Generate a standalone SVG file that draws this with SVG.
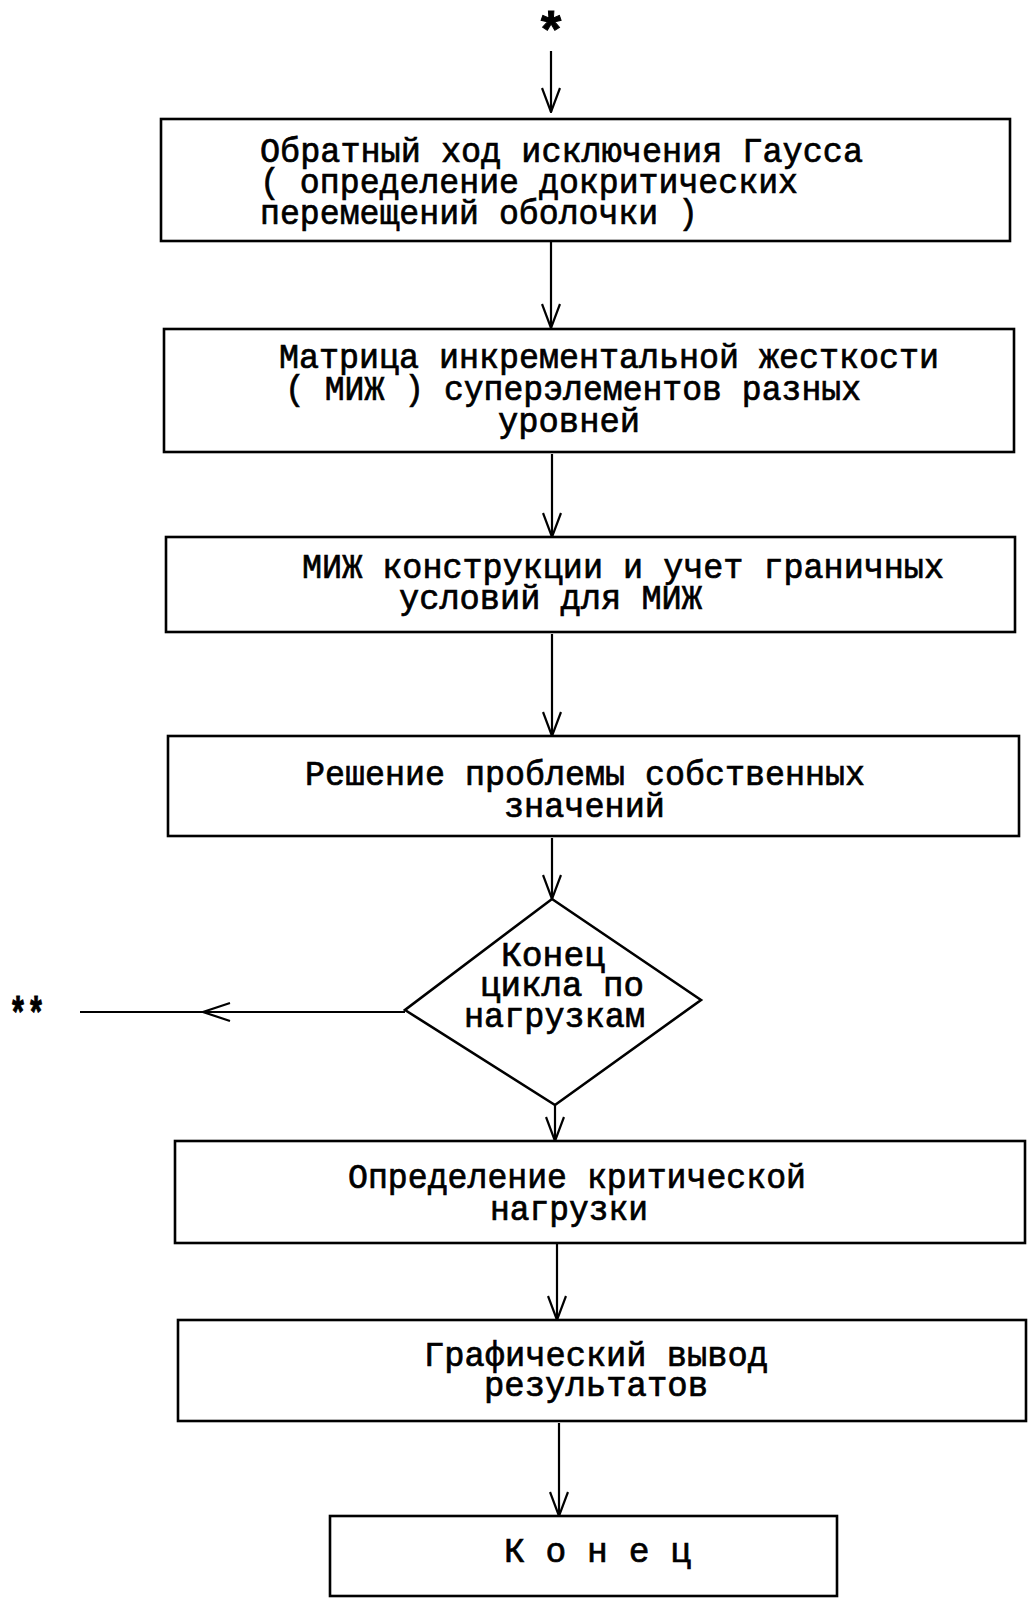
<svg xmlns="http://www.w3.org/2000/svg" width="1031" height="1599" viewBox="0 0 1031 1599">
  <defs>
    <style>
      .box { fill: none; stroke: #000; stroke-width: 2.6; }
      .edge { fill: none; stroke: #000; stroke-width: 2.2; }
      .lbl { font-family: "Liberation Mono", "DejaVu Sans Mono", monospace; font-size: 35px; fill: #000; stroke: #000; stroke-width: 0.7; }
      .star { font-family: "Liberation Mono", "DejaVu Sans Mono", monospace; font-weight: bold; fill: #000; stroke: #000; stroke-width: 1; }
    </style>
    <marker id="arrow" markerUnits="userSpaceOnUse" viewBox="0 0 26 20" markerWidth="26" markerHeight="20" refX="25" refY="10" orient="auto">
      <path d="M1,1 L25,10 L1,19" fill="none" stroke="#000" stroke-width="2.2"/>
    </marker>
  </defs>

  <!-- entry mark -->
  <text class="star" x="551" y="49" font-size="52" text-anchor="middle">*</text>

  <!-- connectors -->
  <g id="connectors">
    <path class="edge" d="M551,51 L551,112" marker-end="url(#arrow)"/>
    <path class="edge" d="M551,242 L551,328" marker-end="url(#arrow)"/>
    <path class="edge" d="M552,454 L552,537" marker-end="url(#arrow)"/>
    <path class="edge" d="M552,634 L552,736" marker-end="url(#arrow)"/>
    <path class="edge" d="M552,838 L552,899" marker-end="url(#arrow)"/>
    <path class="edge" d="M555,1105 L555,1141" marker-end="url(#arrow)"/>
    <path class="edge" d="M557,1244 L557,1320" marker-end="url(#arrow)"/>
    <path class="edge" d="M559,1423 L559,1516" marker-end="url(#arrow)"/>
    <!-- exit to the load loop -->
    <path class="edge" d="M405,1012 L80,1012"/>
    <path class="edge" d="M230,1003 L203,1012 L230,1021"/>
  </g>
  <text class="star" x="9" y="1028" font-size="44" textLength="36" lengthAdjust="spacingAndGlyphs">**</text>

  <g id="n1">
    <rect class="box" x="161" y="119" width="849" height="122"/>
    <text class="lbl"><tspan x="260" y="162" textLength="603" lengthAdjust="spacingAndGlyphs">Обратный ход исключения Гаусса</tspan><tspan x="260" y="193" textLength="538" lengthAdjust="spacingAndGlyphs">( определение докритических</tspan><tspan x="260" y="224" textLength="438" lengthAdjust="spacingAndGlyphs">перемещений оболочки )</tspan></text>
  </g>

  <g id="n2">
    <rect class="box" x="164" y="329" width="850" height="123"/>
    <text class="lbl"><tspan x="279" y="368" textLength="660" lengthAdjust="spacingAndGlyphs">Матрица инкрементальной жесткости</tspan><tspan x="285" y="400" textLength="576" lengthAdjust="spacingAndGlyphs">( МИЖ ) суперэлементов разных</tspan><tspan x="498" y="432" textLength="142" lengthAdjust="spacingAndGlyphs">уровней</tspan></text>
  </g>

  <g id="n3">
    <rect class="box" x="166" y="537" width="849" height="95"/>
    <text class="lbl"><tspan x="302" y="578" textLength="642" lengthAdjust="spacingAndGlyphs">МИЖ конструкции и учет граничных</tspan><tspan x="399" y="609" textLength="303" lengthAdjust="spacingAndGlyphs">условий для МИЖ</tspan></text>
  </g>

  <g id="n4">
    <rect class="box" x="168" y="736" width="851" height="100"/>
    <text class="lbl"><tspan x="305" y="785" textLength="560" lengthAdjust="spacingAndGlyphs">Решение проблемы собственных</tspan><tspan x="504" y="817" textLength="161" lengthAdjust="spacingAndGlyphs">значений</tspan></text>
  </g>

  <g id="n5">
    <polygon class="box" points="552,899 701,1000 555,1105 405,1010"/>
    <text class="lbl"><tspan x="501" y="966" textLength="104" lengthAdjust="spacingAndGlyphs">Конец</tspan><tspan x="480" y="996" textLength="164" lengthAdjust="spacingAndGlyphs">цикла по</tspan><tspan x="464" y="1027" textLength="181" lengthAdjust="spacingAndGlyphs">нагрузкам</tspan></text>
  </g>

  <g id="n6">
    <rect class="box" x="175" y="1141" width="850" height="102"/>
    <text class="lbl"><tspan x="348" y="1188" textLength="458" lengthAdjust="spacingAndGlyphs">Определение критической</tspan><tspan x="490" y="1220" textLength="158" lengthAdjust="spacingAndGlyphs">нагрузки</tspan></text>
  </g>

  <g id="n7">
    <rect class="box" x="178" y="1320" width="848" height="101"/>
    <text class="lbl"><tspan x="424" y="1366" textLength="344" lengthAdjust="spacingAndGlyphs">Графический вывод</tspan><tspan x="484" y="1396" textLength="224" lengthAdjust="spacingAndGlyphs">результатов</tspan></text>
  </g>

  <g id="n8">
    <rect class="box" x="330" y="1516" width="507" height="80"/>
    <text class="lbl" x="504" y="1562" textLength="187" lengthAdjust="spacingAndGlyphs">К о н е ц</text>
  </g>
</svg>
